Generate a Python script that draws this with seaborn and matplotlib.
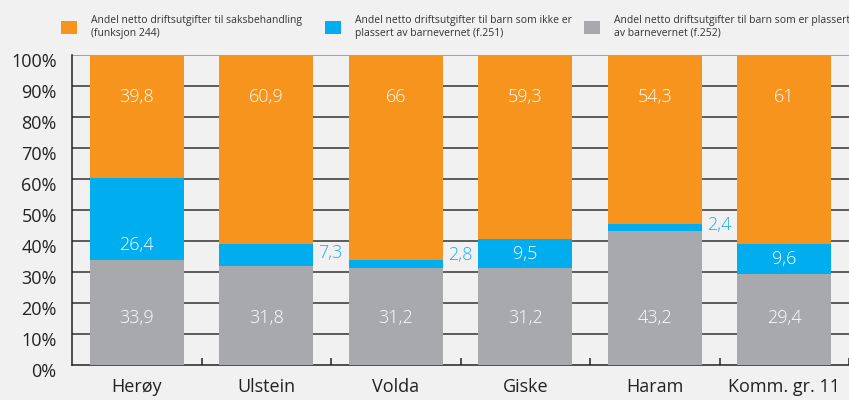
import numpy as np
import pandas as pd
import matplotlib
matplotlib.use("Agg")
import matplotlib.pyplot as plt
import matplotlib.transforms as mtransforms
from matplotlib.patches import Patch
from matplotlib.ticker import FixedLocator
import seaborn as sns

# Data: share of net operating expenditure in child welfare (percent)
kommuner = ["Herøy", "Ulstein", "Volda", "Giske", "Haram", "Komm. gr. 11"]
saksbehandling = [39.8, 60.9, 66, 59.3, 54.3, 61]       # funksjon 244
ikke_plassert = [26.4, 7.3, 2.8, 9.5, 2.4, 9.6]         # f.251
plassert = [33.9, 31.8, 31.2, 31.2, 43.2, 29.4]         # f.252
serie_navn = [
    "Andel netto driftsutgifter til saksbehandling\n(funksjon 244)",
    "Andel netto driftsutgifter til barn som ikke er\nplassert av barnevernet (f.251)",
    "Andel netto driftsutgifter til barn som er plassert\nav barnevernet (f.252)",
]
y_ticklabels = ["0%", "10%", "20%", "30%", "40%", "50%", "60%", "70%", "80%", "90%", "100%"]

ORANGE = "#f7941d"
BLUE = "#00aeef"
GREY = "#a7a9ac"
BG = "#f1f1f1"
TXT = "#222222"

sns.set_theme(style="white")
plt.rcParams["font.family"] = ["Open Sans", "DejaVu Sans"]

df = pd.DataFrame({
    "kommune": kommuner,
    "f244": saksbehandling,
    "f251": ikke_plassert,
    "f252": plassert,
})
df["lag2"] = df["f252"] + df["f251"]
df["lag3"] = df["lag2"] + df["f244"]

fig = plt.figure(figsize=(8.49, 4.0), dpi=100, facecolor=BG)
ax = fig.add_axes([72 / 849, 35 / 400, 1 - 72 / 849, 310 / 400])
ax.set_facecolor(BG)

# gridlines behind the bars
for v in range(10, 101, 10):
    ax.axhline(v, color="#333333" if v < 100 else "#8a8a8a", lw=1.1, zorder=0)

bw = 0.726
sns.barplot(data=df, x="kommune", y="lag3", color=ORANGE, width=bw,
            saturation=1, ax=ax, zorder=2, linewidth=0)
sns.barplot(data=df, x="kommune", y="lag2", color=BLUE, width=bw,
            saturation=1, ax=ax, zorder=3, linewidth=0)
sns.barplot(data=df, x="kommune", y="f252", color=GREY, width=bw,
            saturation=1, ax=ax, zorder=4, linewidth=0)

def fmt(v):
    return f"{v:g}".replace(".", ",")

lbl = dict(fontsize=13, fontweight="light", zorder=6)
for i in range(len(kommuner)):
    # orange label near the top, grey label near the bottom
    ax.text(i, 86.5, fmt(saksbehandling[i]), ha="center", va="center",
            color="white", **lbl)
    ax.text(i, 15.2, fmt(plassert[i]), ha="center", va="center",
            color="white", **lbl)
    b0 = plassert[i]
    h = ikke_plassert[i]
    if h >= 9:
        ax.text(i, b0 + min(h / 2, 4.8), fmt(h), ha="center", va="center",
                color="white", **lbl)
    else:
        ax.text(i + bw / 2 + 0.04, max(b0 + h / 2 + 0.8, 35.5), fmt(h),
                ha="left", va="center", color="#1aafe8", **lbl)

ax.set_xlim(-0.5, len(kommuner) - 0.5)
ax.set_ylim(0, 100)
ax.set_yticks(np.arange(0, 101, 10))
ax.set_yticklabels(y_ticklabels)
ax.set_xlabel("")
ax.set_ylabel("")
ax.tick_params(axis="y", length=0, pad=11, labelsize=13, labelcolor=TXT)
ax.tick_params(axis="x", which="major", length=0, pad=9, labelsize=13, labelcolor=TXT)
ax.xaxis.set_minor_locator(FixedLocator(np.arange(0.5, len(kommuner), 1.0)))
ax.tick_params(axis="x", which="minor", direction="in", length=5, width=1.1,
               color="#222222", bottom=True)

# y labels sit slightly below their gridlines
shift = mtransforms.ScaledTranslation(0, -5 / 100, fig.dpi_scale_trans)
for lab in ax.get_yticklabels():
    lab.set_transform(lab.get_transform() + shift)

for s in ["top", "right"]:
    ax.spines[s].set_visible(False)
for s in ["left", "bottom"]:
    ax.spines[s].set_color("#222222")
    ax.spines[s].set_linewidth(1.1)

# legend entries across the top
colors = [ORANGE, BLUE, GREY]
xpos = [52 / 849, 316 / 849, 575 / 849]
for c, name, x in zip(colors, serie_navn, xpos):
    fig.legend(handles=[Patch(facecolor=c, edgecolor="none", label=name)],
               loc="center left", bbox_to_anchor=(x, 1 - 27 / 400),
               frameon=False, fontsize=7.5, handlelength=1.5, handleheight=1.5,
               handletextpad=1.3, labelcolor="#333333")

fig.savefig("out.png", dpi=100, facecolor=BG)
